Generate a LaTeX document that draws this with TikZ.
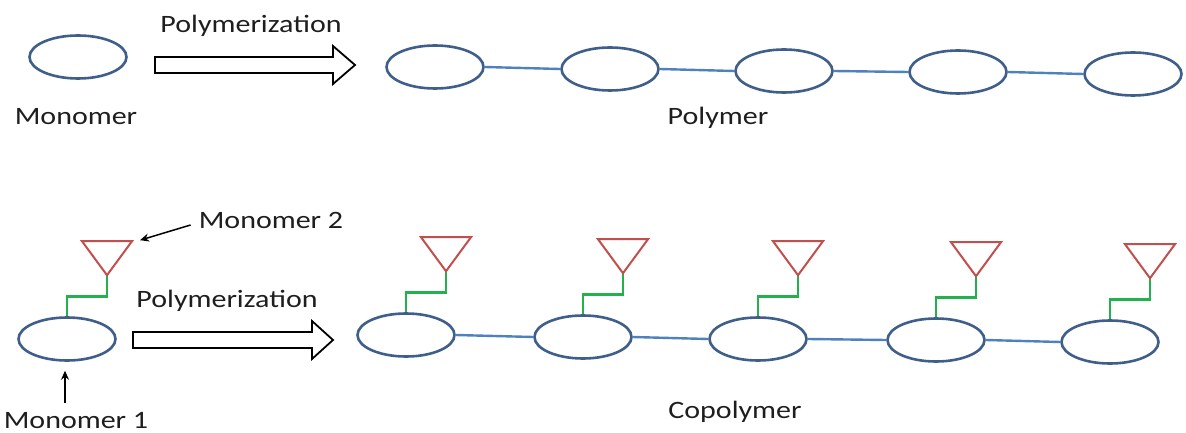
\documentclass[tikz,border=0pt]{standalone}
\usepackage{fontspec}
\setmainfont{Carlito}[FakeStretch=1.2]
\usepackage{tikz}
\usetikzlibrary{positioning,arrows.meta,shapes.geometric,calc}

\definecolor{unitblue}{HTML}{3F5F8A}
\definecolor{linkblue}{HTML}{4F81BD}
\definecolor{sidered}{HTML}{C0504D}
\definecolor{spacergreen}{HTML}{22B14C}
\definecolor{labelgray}{HTML}{1E1E1E}

\begin{document}
\begin{tikzpicture}[
  x=1pt, y=-1pt,
  >=Stealth,
  font=\fontsize{25pt}{30pt}\selectfont,
  unit/.style={ellipse, draw=unitblue, line width=2.6pt, minimum width=97pt,
               minimum height=43pt, inner sep=0pt},
  link/.style={draw=linkblue, line width=2.4pt},
  spacer/.style={draw=spacergreen, line width=2.6pt},
  side/.style={draw=sidered, line width=2pt, line join=miter},
  blockarrow/.style={draw=black, fill=white, line width=1.8pt, line join=miter},
  pointer/.style={draw=black, line width=1.5pt,
                  arrows={-Stealth[length=9pt,width=8pt]}},
  lbl/.style={anchor=base, inner sep=0pt, text=labelgray},
]
\useasboundingbox (0,0) rectangle (1186,433);

% top row: monomer -> polymer
\node[unit] (mono) at (78,57) {};
\node[lbl] (lblmono) at (76,125) {Monomer};
\draw[blockarrow] (155,57) -- (333,57) -- (333,46) -- (355,65) -- (333,84)
  -- (333,73) -- (155,73) -- cycle;
\node[lbl] (lblpolyA) at (251,33) {Polymerization};

\node[unit] (p1) at (435,67) {};
\node[unit] (p2) at (610,69) {};
\node[unit] (p3) at (784,71) {};
\node[unit] (p4) at (958,72) {};
\node[unit] (p5) at (1133,74) {};
\draw[link] (p1.east) -- (p2.west);
\draw[link] (p2.east) -- (p3.west);
\draw[link] (p3.east) -- (p4.west);
\draw[link] (p4.east) -- (p5.west);
\node[lbl] (lblpoly) at (718,125) {Polymer};

% bottom row: monomer 1 + monomer 2 -> copolymer
\node[unit] (m1) at (67,339) {};
\coordinate (t0) at ($(m1.north)+(40,-41)$);
\draw[spacer] (m1.north) -- ++(0,-20) -| (t0);
\draw[side] (t0) -- ++(-25,-34) -- ++(50,0) -- cycle;
\node[lbl] (lbltwo) at (271,228) {Monomer 2};
\node[lbl] (lblone) at (76,428) {Monomer 1};
\draw[pointer] ($(lbltwo.west)+(-8,5)$) -- ($(t0)+(33,-35)$);
\draw[pointer] ($(lblone.north -| m1.south)+(-2,-9)$) -- ($(m1.south)+(-2,9)$);

\draw[blockarrow] (133,332) -- (312,332) -- (312,321) -- (333,340) -- (312,359)
  -- (312,348) -- (133,348) -- cycle;
\node[lbl] (lblpolyB) at (227,307) {Polymerization};

\node[unit] (c1) at (406,335) {};
\node[unit] (c2) at (583,337) {};
\node[unit] (c3) at (758,339) {};
\node[unit] (c4) at (936,340) {};
\node[unit] (c5) at (1110,342) {};
\draw[link] (c1.east) -- (c2.west);
\draw[link] (c2.east) -- (c3.west);
\draw[link] (c3.east) -- (c4.west);
\draw[link] (c4.east) -- (c5.west);

\coordinate (t1) at ($(c1.north)+(40,-41)$);
\coordinate (t2) at ($(c2.north)+(40,-41)$);
\coordinate (t3) at ($(c3.north)+(40,-41)$);
\coordinate (t4) at ($(c4.north)+(40,-41)$);
\coordinate (t5) at ($(c5.north)+(40,-41)$);
\draw[spacer] (c1.north) -- ++(0,-20) -| (t1);
\draw[spacer] (c2.north) -- ++(0,-20) -| (t2);
\draw[spacer] (c3.north) -- ++(0,-20) -| (t3);
\draw[spacer] (c4.north) -- ++(0,-20) -| (t4);
\draw[spacer] (c5.north) -- ++(0,-20) -| (t5);
\draw[side] (t1) -- ++(-25,-34) -- ++(50,0) -- cycle;
\draw[side] (t2) -- ++(-25,-34) -- ++(50,0) -- cycle;
\draw[side] (t3) -- ++(-25,-34) -- ++(50,0) -- cycle;
\draw[side] (t4) -- ++(-25,-34) -- ++(50,0) -- cycle;
\draw[side] (t5) -- ++(-25,-34) -- ++(50,0) -- cycle;
\node[lbl] (lblcopoly) at (735,418) {Copolymer};
\end{tikzpicture}
\end{document}
